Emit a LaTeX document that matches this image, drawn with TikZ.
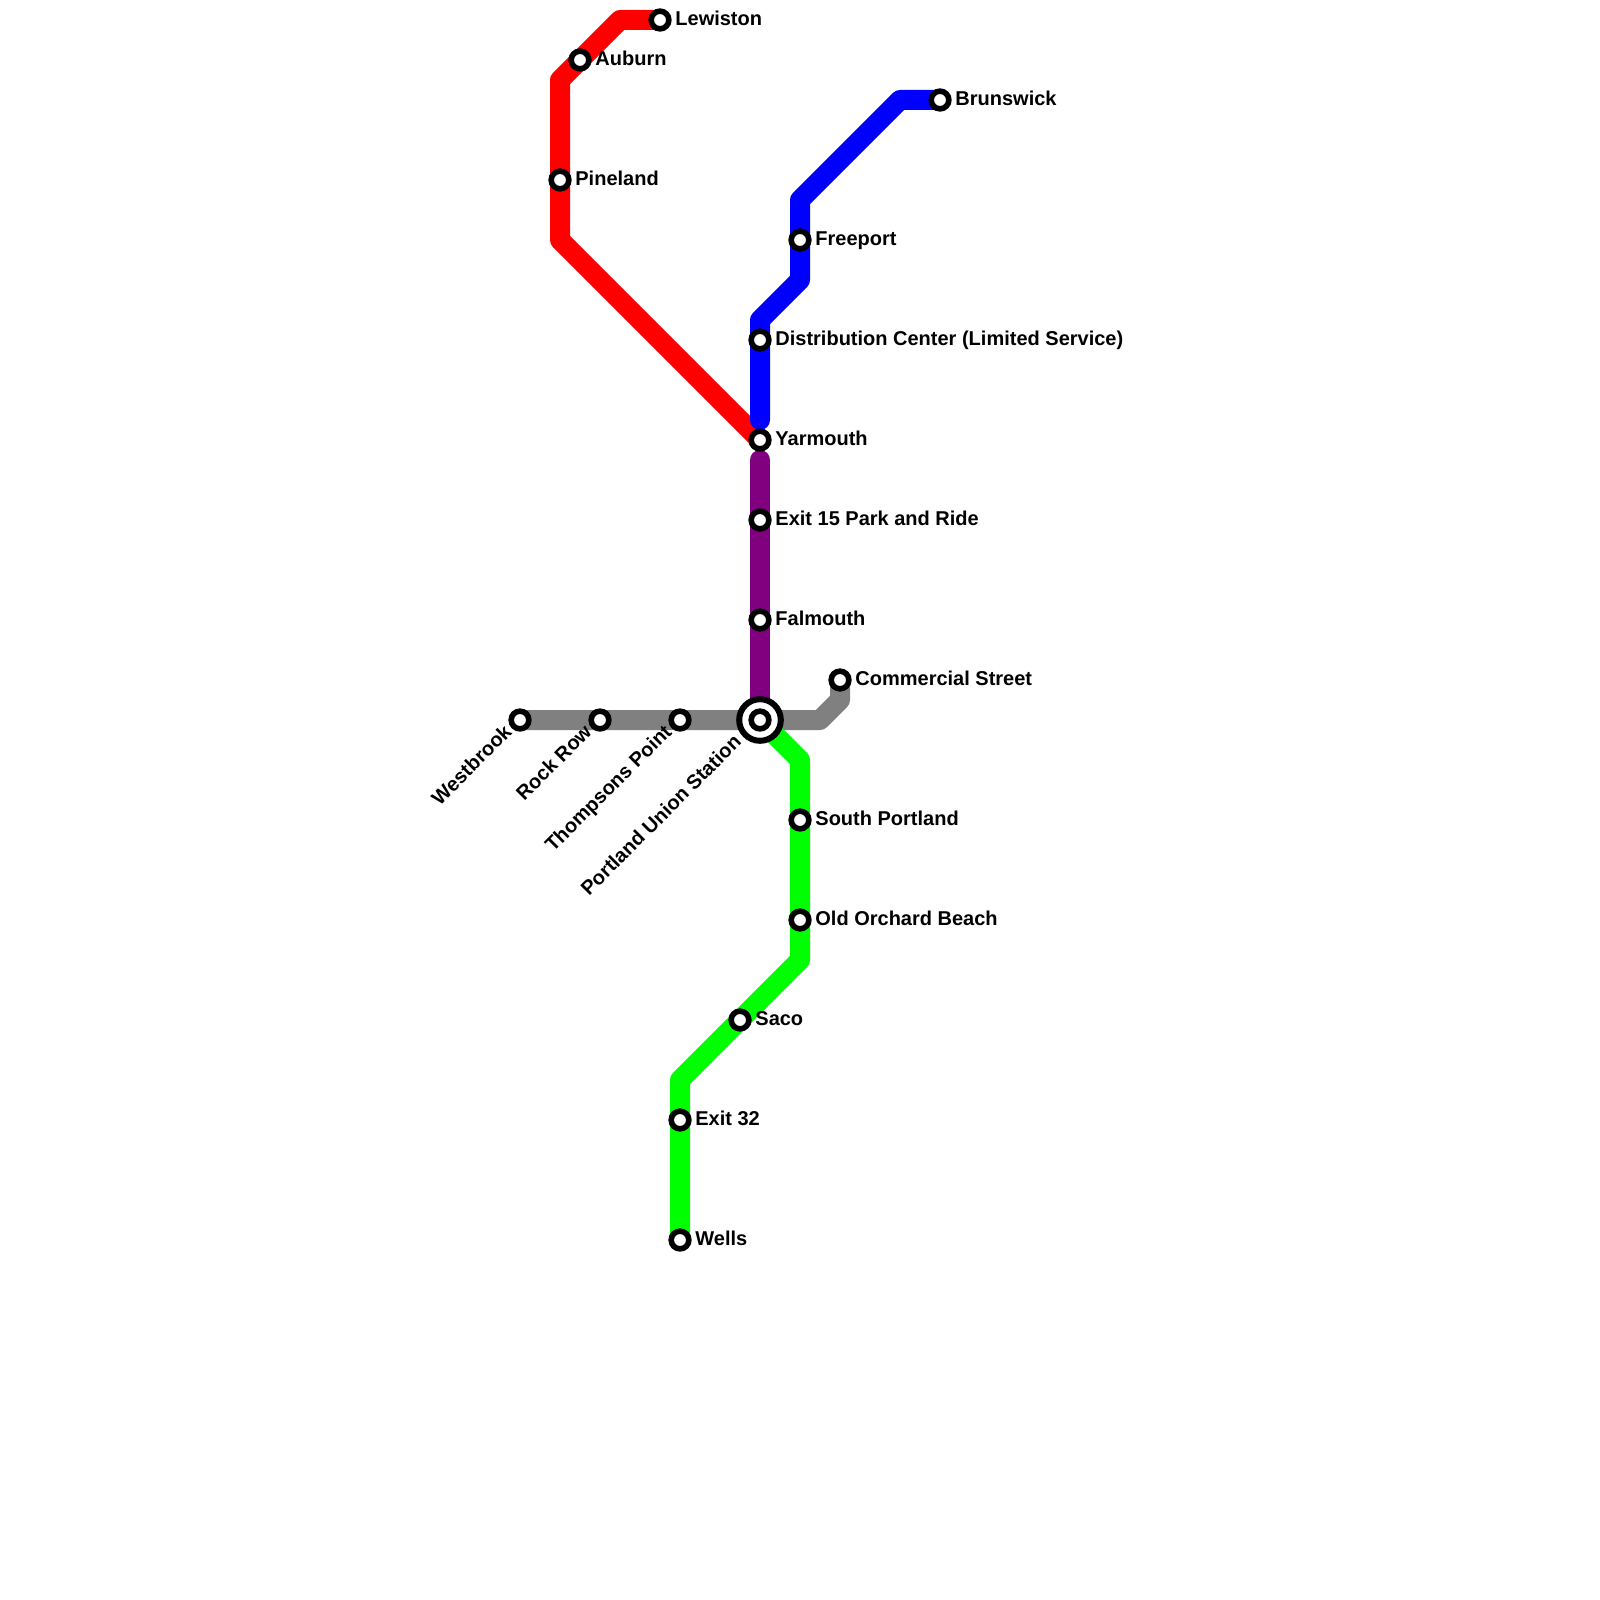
\documentclass[tikz,border=0pt]{standalone}
\usepackage{fontspec}
\setmainfont{Liberation Sans}
\definecolor{purpleline}{RGB}{128,0,128}
\definecolor{greyline}{RGB}{128,128,128}
\definecolor{greenline}{RGB}{0,255,0}
\tikzset{
 route/.style={line width=10pt,line join=round,line cap=round},
 flat/.style={line width=10pt,line join=round},
 stop/.style={circle,draw=black,fill=white,line width=2.8pt,outer sep=0pt,minimum size=8.85pt,inner sep=0pt},
 hub/.style={circle,draw=black,fill=white,line width=3pt,outer sep=0pt,minimum size=20.8pt,inner sep=0pt},
 rlab/.style={anchor=base west,inner sep=0pt,font=\bfseries\fontsize{10}{12}\selectfont},
 dlab/.style={anchor=base east,rotate=45,inner sep=0pt,font=\bfseries\fontsize{10}{12}\selectfont},
}
\begin{document}
\begin{tikzpicture}[x=0.5pt,y=-0.5pt]
\useasboundingbox (0,0) rectangle (1600,1600);
\coordinate (lew) at (660,20);
\coordinate (aub) at (580,60);
\coordinate (pin) at (560,180);
\coordinate (yar) at (760,440);
\coordinate (bru) at (940,100);
\coordinate (fre) at (800,240);
\coordinate (dis) at (760,340);
\coordinate (exf) at (760,520);
\coordinate (fal) at (760,620);
\coordinate (por) at (760,720);
\coordinate (com) at (840,680);
\coordinate (tho) at (680,720);
\coordinate (roc) at (600,720);
\coordinate (wes) at (520,720);
\coordinate (sou) at (800,820);
\coordinate (old) at (800,920);
\coordinate (sac) at (740,1020);
\coordinate (ext) at (680,1120);
\coordinate (wel) at (680,1240);
\coordinate (rb1) at (620,20);
\coordinate (rb2) at (560,80);
\coordinate (rb3) at (560,240);
\coordinate (bb1) at (900,100);
\coordinate (bb2) at (800,200);
\coordinate (bb3) at (800,280);
\coordinate (bb4) at (760,320);
\coordinate (bend) at (760,420);
\coordinate (pstart) at (760,460);
\coordinate (gb1) at (820,720);
\coordinate (gb2) at (840,700);
\coordinate (lb1) at (800,760);
\coordinate (lb2) at (800,960);
\coordinate (lb3) at (680,1080);
% lines
\draw[route,red] (lew) -- (rb1) -- (rb2) -- (pin) -- (rb3);
\draw[flat,red] (rb3) -- (yar);
\draw[route,blue] (bru) -- (bb1) -- (bb2) -- (fre) -- (bb3) -- (bb4) -- (dis) -- (bend);
\draw[route,purpleline] (pstart) -- (exf) -- (fal) -- (por);
\draw[route,greyline] (wes) -- (gb1) -- (gb2) -- (com);
\draw[route,greenline] (por) -- (lb1) -- (lb2) -- (sac) -- (lb3) -- (ext) -- (wel);
% stations
\node[hub] (porhub) at (por) {};
\foreach \p/\n in {lew/nlew,aub/naub,pin/npin,yar/nyar,bru/nbru,fre/nfre,dis/ndis,exf/nexf,fal/nfal,por/npor,com/ncom,tho/ntho,roc/nroc,wes/nwes,sou/nsou,old/nold,sac/nsac,ext/next,wel/nwel}
  \node[stop] (\n) at (\p) {};
% labels
\node[rlab] (llew) at (675,25.5) {Lewiston};
\node[rlab] (laub) at (595,65.5) {Auburn};
\node[rlab] (lpin) at (575,185.5) {Pineland};
\node[rlab] (lyar) at (775,445.5) {Yarmouth};
\node[rlab] (lbru) at (955,105.5) {Brunswick};
\node[rlab] (lfre) at (815,245.5) {Freeport};
\node[rlab] (ldis) at (775,345.5) {Distribution Center (Limited Service)};
\node[rlab] (lexf) at (775,525.5) {Exit 15 Park and Ride};
\node[rlab] (lfal) at (775,625.5) {Falmouth};
\node[rlab] (lcom) at (855,685.5) {Commercial Street};
\node[rlab] (lsou) at (815,825.5) {South Portland};
\node[rlab] (lold) at (815,925.5) {Old Orchard Beach};
\node[rlab] (lsac) at (755,1025.5) {Saco};
\node[rlab] (lext) at (695,1125.5) {Exit 32};
\node[rlab] (lwel) at (695,1245.5) {Wells};
\node[dlab] (lwes) at (513,733) {Westbrook};
\node[dlab] (lroc) at (593,733) {Rock Row};
\node[dlab] (ltho) at (673,733) {Thompsons Point};
\node[dlab] (lpor) at (742.5,743) {Portland Union Station};
\end{tikzpicture}
\end{document}
